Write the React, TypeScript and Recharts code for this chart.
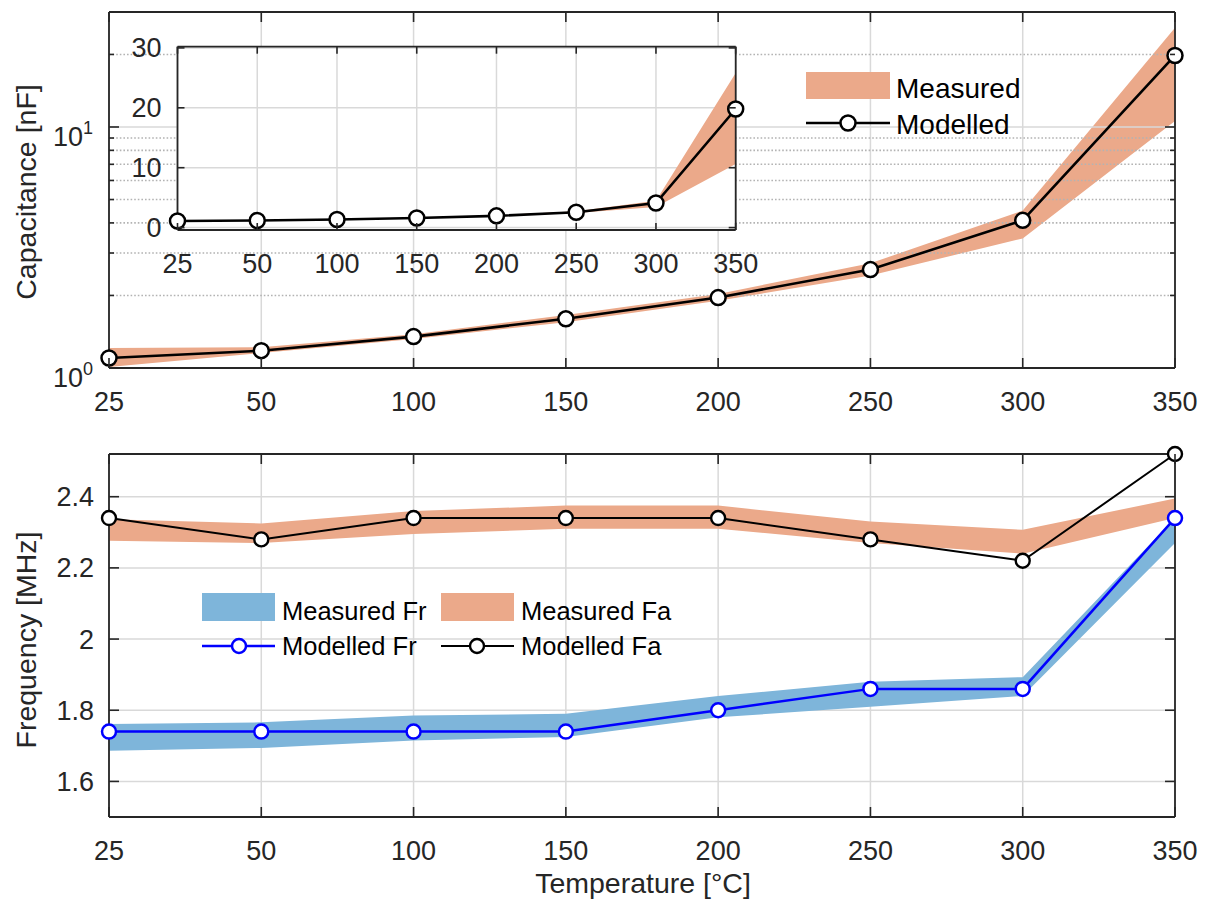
import React from 'react'
import {
  ComposedChart, Area, Line, XAxis, YAxis, CartesianGrid, ReferenceLine, Legend
} from 'recharts'

// temperatures (category axis, evenly spaced)
const temps = ['25', '50', '100', '150', '200', '250', '300', '350']

// capacitance [nF]
const capModelled = [1.10, 1.18, 1.35, 1.60, 1.96, 2.56, 4.10, 19.8]
const capMeasLow = [1.01, 1.155, 1.32, 1.55, 1.90, 2.42, 3.45, 10.6]
const capMeasHigh = [1.21, 1.22, 1.38, 1.66, 2.03, 2.72, 4.50, 25.8]

// frequency [MHz]
const frModelled = [1.74, 1.74, 1.74, 1.74, 1.80, 1.86, 1.86, 2.34]
const frMeasLow = [1.686, 1.694, 1.715, 1.725, 1.78, 1.81, 1.84, 2.27]
const frMeasHigh = [1.761, 1.766, 1.785, 1.79, 1.84, 1.88, 1.893, 2.34]
const faModelled = [2.34, 2.28, 2.34, 2.34, 2.34, 2.28, 2.22, 2.52]
const faMeasLow = [2.276, 2.27, 2.295, 2.31, 2.31, 2.27, 2.24, 2.34]
const faMeasHigh = [2.337, 2.325, 2.36, 2.375, 2.375, 2.33, 2.307, 2.395]

// ticks
const capMajorTicks = [1, 10]
const capMinorTicks = [2, 3, 4, 5, 6, 7, 8, 9, 20, 30]
const insetTicks = [0, 10, 20, 30]
const freqTicks = [1.6, 1.8, 2, 2.2, 2.4]

const capData = temps.map((t, i) => ({
  temp: t,
  model: capModelled[i],
  meas: [capMeasLow[i], capMeasHigh[i]],
}))

const freqData = temps.map((t, i) => ({
  temp: t,
  fr: frModelled[i],
  frBand: [frMeasLow[i], frMeasHigh[i]],
  fa: faModelled[i],
  faBand: [faMeasLow[i], faMeasHigh[i]],
}))

const ORANGE = '#EBA98A'
const BLUE_BAND = '#7EB5DA'
const AX = '#262626'
const GRID = '#d9d9d9'
const DOTTED = '#b3b3b3'
const FONT = '"Liberation Sans", Arial, Helvetica, sans-serif'

// tick renderers (ticks drawn inward, MATLAB style)
const bottomTick = (len: number, fs: number, label = true) => (p: any) => (
  <g>
    <line x1={p.x} x2={p.x} y1={p.y} y2={p.y - len} stroke={AX} strokeWidth={1.6} />
    {label && (
      <text x={p.x} y={p.y + 43} textAnchor="middle" fontSize={fs} fill={AX} fontFamily={FONT}>
        {p.payload.value}
      </text>
    )}
  </g>
)
const topTick = (len: number) => (p: any) => (
  <line x1={p.x} x2={p.x} y1={p.y} y2={p.y + len} stroke={AX} strokeWidth={1.6} />
)
const leftTick = (len: number, fs: number, gap: number) => (p: any) => (
  <g>
    <line x1={p.x} x2={p.x + len} y1={p.y} y2={p.y} stroke={AX} strokeWidth={1.6} />
    <text x={p.x - gap} y={p.y + 9.5} textAnchor="end" fontSize={fs} fill={AX} fontFamily={FONT}>
      {String(p.payload.value)}
    </text>
  </g>
)
const rightTick = (len: number) => (p: any) => (
  <line x1={p.x} x2={p.x - len} y1={p.y} y2={p.y} stroke={AX} strokeWidth={1.6} />
)
const logLeftTick = (p: any) => {
  const v = p.payload.value
  const major = capMajorTicks.includes(v)
  return (
    <g>
      <line x1={p.x} x2={p.x + (major ? 10 : 5)} y1={p.y} y2={p.y} stroke={AX} strokeWidth={1.6} />
      {major && (
        <text x={p.x - 16} y={p.y + 19} textAnchor="end" fontSize={27} fill={AX} fontFamily={FONT}>
          10<tspan fontSize={18} dy={-12}>{Math.round(Math.log10(v))}</tspan>
        </text>
      )}
    </g>
  )
}
const logRightTick = (p: any) => {
  const major = capMajorTicks.includes(p.payload.value)
  return <line x1={p.x} x2={p.x - (major ? 10 : 5)} y1={p.y} y2={p.y} stroke={AX} strokeWidth={1.6} />
}

const axisLine = { stroke: AX, strokeWidth: 1.8 }

function TopLegend() {
  return (
    <svg width={260} height={90} style={{ display: 'block', fontFamily: FONT, overflow: 'visible' }}>
      <rect x={6} y={12} width={84} height={27} fill={ORANGE} />
      <text x={96} y={38} fontSize={28} fill="#000">Measured</text>
      <line x1={6} x2={90} y1={63} y2={63} stroke="#000" strokeWidth={2.6} />
      <circle cx={48} cy={63} r={7.5} fill="#fff" stroke="#000" strokeWidth={2.5} />
      <text x={96} y={74} fontSize={28} fill="#000">Modelled</text>
    </svg>
  )
}

function BottomLegend() {
  return (
    <svg width={500} height={90} style={{ display: 'block', fontFamily: FONT, overflow: 'visible' }}>
      <rect x={7} y={13} width={73} height={28} fill={BLUE_BAND} />
      <text x={87} y={40} fontSize={25.5} fill="#000">Measured Fr</text>
      <rect x={246} y={13} width={73} height={28} fill={ORANGE} />
      <text x={326} y={40} fontSize={25.5} fill="#000">Measured Fa</text>
      <line x1={7} x2={80} y1={66} y2={66} stroke="#0000ff" strokeWidth={2.5} />
      <circle cx={44} cy={66} r={7} fill="#fff" stroke="#0000ff" strokeWidth={2.5} />
      <text x={87} y={75} fontSize={25.5} fill="#000">Modelled Fr</text>
      <line x1={246} x2={319} y1={66} y2={66} stroke="#000" strokeWidth={2.2} />
      <circle cx={282} cy={66} r={7} fill="#fff" stroke="#000" strokeWidth={2.4} />
      <text x={326} y={75} fontSize={25.5} fill="#000">Modelled Fa</text>
    </svg>
  )
}

function CapacitanceChart() {
  return (
    <ComposedChart width={1207} height={420} data={capData}
      margin={{ top: 2, right: 22, bottom: 12, left: 49 }}>
      <CartesianGrid horizontal={false} stroke={GRID} strokeWidth={1.5} />
      {capMinorTicks.map(v => (
        <ReferenceLine key={v} y={v} stroke={DOTTED} strokeWidth={1.6} strokeDasharray="1.6 2" />
      ))}
      <ReferenceLine y={10} stroke={GRID} strokeWidth={1.5} />
      <XAxis dataKey="temp" type="category" scale="point" interval={0} padding={{ left: 0, right: 0 }}
        height={40} tickSize={0} tickMargin={0} tickLine={false} axisLine={axisLine}
        tick={bottomTick(10, 27)} />
      <XAxis xAxisId="t" orientation="top" dataKey="temp" type="category" scale="point" interval={0}
        padding={{ left: 0, right: 0 }} height={10} tickSize={0} tickMargin={0} tickLine={false}
        axisLine={axisLine} tick={topTick(10)} />
      <YAxis scale="log" domain={[1, 30]} ticks={[...capMajorTicks, ...capMinorTicks]} interval={0}
        width={60} tickSize={0} tickMargin={0} tickLine={false} axisLine={axisLine} tick={logLeftTick} />
      <YAxis yAxisId="r" orientation="right" scale="log" domain={[1, 30]}
        ticks={[...capMajorTicks, ...capMinorTicks]} interval={0} width={10} tickSize={0} tickMargin={0}
        tickLine={false} axisLine={axisLine} tick={logRightTick} />
      <Area dataKey="meas" type="linear" stroke="none" fill={ORANGE} fillOpacity={1}
        dot={false} activeDot={false} isAnimationActive={false} />
      <Line dataKey="model" type="linear" stroke="#000" strokeWidth={2.6}
        dot={{ r: 7.5, fill: '#fff', stroke: '#000', strokeWidth: 2.5 }}
        activeDot={false} isAnimationActive={false} />
      <Line xAxisId="t" yAxisId="r" dataKey="model" stroke="none" dot={false} activeDot={false}
        isAnimationActive={false} legendType="none" />
      <Legend layout="horizontal" verticalAlign="middle" align="center"
        wrapperStyle={{ left: 800, top: 60, width: 260 }} content={() => <TopLegend />} />
    </ComposedChart>
  )
}

function InsetChart() {
  return (
    <ComposedChart width={700} height={270} data={capData}
      margin={{ top: 10.7, right: 58.3, bottom: 30, left: 37.5 }}>
      <CartesianGrid stroke={GRID} strokeWidth={1.5} fill="#ffffff" fillOpacity={1} />
      <XAxis dataKey="temp" type="category" scale="point" interval={0} padding={{ left: 0, right: 0 }}
        height={40} tickSize={0} tickMargin={0} tickLine={false} axisLine={axisLine}
        tick={bottomTick(7, 27)} />
      <XAxis xAxisId="t" orientation="top" dataKey="temp" type="category" scale="point" interval={0}
        padding={{ left: 0, right: 0 }} height={6} tickSize={0} tickMargin={0} tickLine={false}
        axisLine={axisLine} tick={topTick(7)} />
      <YAxis domain={[-0.4, 30.2]} ticks={insetTicks} interval={0} width={40} tickSize={0} tickMargin={0}
        tickLine={false} axisLine={axisLine} tick={leftTick(7, 27, 16)} />
      <YAxis yAxisId="r" orientation="right" domain={[-0.4, 30.2]} ticks={insetTicks} interval={0}
        width={6} tickSize={0} tickMargin={0} tickLine={false} axisLine={axisLine} tick={rightTick(7)} />
      <Area dataKey="meas" type="linear" stroke="none" fill={ORANGE} fillOpacity={1}
        dot={false} activeDot={false} isAnimationActive={false} />
      <Line dataKey="model" type="linear" stroke="#000" strokeWidth={2.6}
        dot={{ r: 7.5, fill: '#fff', stroke: '#000', strokeWidth: 2.5 }}
        activeDot={false} isAnimationActive={false} />
      <Line xAxisId="t" yAxisId="r" dataKey="model" stroke="none" dot={false} activeDot={false}
        isAnimationActive={false} legendType="none" />
    </ComposedChart>
  )
}

function FrequencyChart() {
  return (
    <ComposedChart width={1207} height={483} data={freqData}
      margin={{ top: 24, right: 22, bottom: 46, left: 49 }}>
      <CartesianGrid stroke={GRID} strokeWidth={1.5} />
      <XAxis dataKey="temp" type="category" scale="point" interval={0} padding={{ left: 0, right: 0 }}
        height={40} tickSize={0} tickMargin={0} tickLine={false} axisLine={axisLine}
        tick={bottomTick(10, 27)} />
      <XAxis xAxisId="t" orientation="top" dataKey="temp" type="category" scale="point" interval={0}
        padding={{ left: 0, right: 0 }} height={10} tickSize={0} tickMargin={0} tickLine={false}
        axisLine={axisLine} tick={topTick(10)} />
      <YAxis domain={[1.5, 2.52]} ticks={freqTicks} interval={0} width={60} tickSize={0} tickMargin={0}
        tickLine={false} axisLine={axisLine} tick={leftTick(10, 27, 15)} />
      <YAxis yAxisId="r" orientation="right" domain={[1.5, 2.52]} ticks={freqTicks} interval={0}
        width={10} tickSize={0} tickMargin={0} tickLine={false} axisLine={axisLine} tick={rightTick(10)} />
      <Area dataKey="frBand" type="linear" stroke="none" fill={BLUE_BAND} fillOpacity={1}
        dot={false} activeDot={false} isAnimationActive={false} />
      <Line dataKey="fr" type="linear" stroke="#0000ff" strokeWidth={2.5}
        dot={{ r: 7, fill: '#fff', stroke: '#0000ff', strokeWidth: 2.5 }}
        activeDot={false} isAnimationActive={false} />
      <Area dataKey="faBand" type="linear" stroke="none" fill={ORANGE} fillOpacity={1}
        dot={false} activeDot={false} isAnimationActive={false} />
      <Line dataKey="fa" type="linear" stroke="#000" strokeWidth={2}
        dot={{ r: 7, fill: '#fff', stroke: '#000', strokeWidth: 2.4 }}
        activeDot={false} isAnimationActive={false} />
      <Line xAxisId="t" yAxisId="r" dataKey="fr" stroke="none" dot={false} activeDot={false}
        isAnimationActive={false} legendType="none" />
      <Legend layout="horizontal" verticalAlign="middle" align="center"
        wrapperStyle={{ left: 195, top: 160, width: 500 }} content={() => <BottomLegend />} />
    </ComposedChart>
  )
}

export default function App() {
  return (
    <div style={{ position: 'absolute', left: 0, top: 0, width: 1207, height: 903, background: '#fff', fontFamily: FONT }}>
      <div style={{ position: 'absolute', left: 0, top: 0 }}>
        <CapacitanceChart />
      </div>
      <div style={{ position: 'absolute', left: 100, top: 30 }}>
        <InsetChart />
      </div>
      <div style={{ position: 'absolute', left: 0, top: 420 }}>
        <FrequencyChart />
      </div>
      <svg width={1207} height={903} style={{ position: 'absolute', left: 0, top: 0, pointerEvents: 'none' }}>
        <text x={36} y={192} transform="rotate(-90, 36, 192)" textAnchor="middle" fontSize={28.5}
          fill={AX} fontFamily={FONT}>Capacitance [nF]</text>
        <text x={36} y={640} transform="rotate(-90, 36, 640)" textAnchor="middle" fontSize={28.5}
          fill={AX} fontFamily={FONT}>Frequency [MHz]</text>
        <text x={643} y={893} textAnchor="middle" fontSize={28.5} fill={AX} fontFamily={FONT}>
          Temperature [°C]
        </text>
      </svg>
    </div>
  )
}
